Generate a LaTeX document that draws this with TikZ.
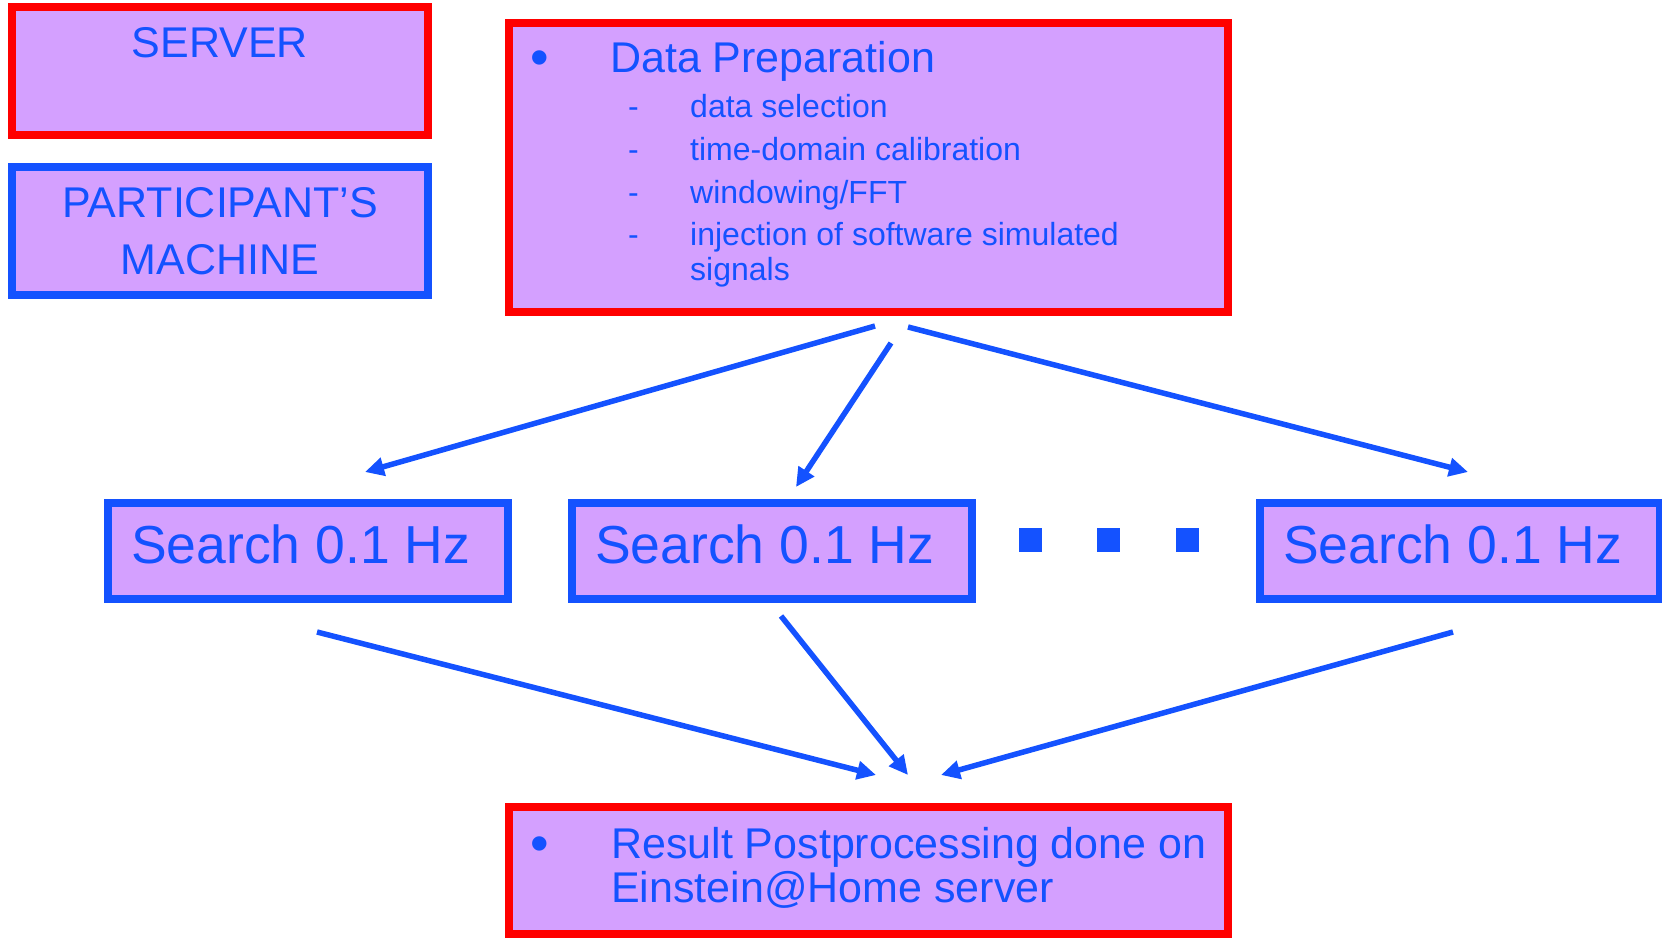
\documentclass[tikz,border=0pt]{standalone}
\usepackage{fontspec}
\setmainfont{Liberation Sans}
\usetikzlibrary{arrows.meta}
\definecolor{boxfill}{RGB}{212,160,255}
\definecolor{blu}{RGB}{20,82,255}
\definecolor{rd}{RGB}{255,0,0}
\tikzset{
  frame/.style={rectangle, fill=boxfill, line width=8pt, inner sep=0pt},
  srvbox/.style={frame, draw=rd},
  clibox/.style={frame, draw=blu},
  txt/.style={text=blu, inner sep=0pt, anchor=base west},
  txtc/.style={text=blu, inner sep=0pt, anchor=base},
  big/.style={font=\fontsize{43}{50}\selectfont},
  bul/.style={font=\fontsize{53}{60}\selectfont},
  small/.style={font=\fontsize{32}{38}\selectfont},
  huge/.style={font=\fontsize{53.5}{60}\selectfont},
  flow/.style={draw=blu, line width=5.5pt, -{Triangle[length=19pt,width=18pt]}},
  dot/.style={rectangle, fill=blu, minimum width=23pt, minimum height=24pt, inner sep=0pt}
}
\begin{document}
\begin{tikzpicture}[x=1pt, y=-1pt]
\useasboundingbox (0,0) rectangle (1662,937);

% legend boxes
\node[srvbox, minimum width=416pt, minimum height=128pt] (server) at (220,71) {};
\node[txtc, big] (servert) at (220,57) {SERVER};
\node[clibox, minimum width=416pt, minimum height=128pt] (client) at (220,231) {};
\node[txtc, big] (clientt1) at (220,217) {PARTICIPANT’S};
\node[txtc, big] (clientt2) at (220,274) {MACHINE};

% data preparation
\node[srvbox, minimum width=719pt, minimum height=289pt] (prep) at (868,167.5) {};
\node[txt, bul] (prepb) at (530,75) {•};
\node[txt, big] (prept) at (610,72) {Data Preparation};
\node[txt, small] (d1) at (628,117) {-};
\node[txt, small] (s1) at (690,117) {data selection};
\node[txt, small] (d2) at (628,160) {-};
\node[txt, small] (s2) at (690,160) {time-domain calibration};
\node[txt, small] (d3) at (628,203) {-};
\node[txt, small] (s3) at (690,203) {windowing/FFT};
\node[txt, small] (d4) at (628,245) {-};
\node[txt, small] (s4) at (690,245) {injection of software simulated};
\node[txt, small] (s4b) at (690,280) {signals};

% search jobs
\node[clibox, minimum width=400pt, minimum height=96pt] (srch1) at (308,551) {};
\node[txt, huge] (srch1t) at (131,563) {Search 0.1 Hz};
\node[clibox, minimum width=400pt, minimum height=96pt] (srch2) at (772,551) {};
\node[txt, huge] (srch2t) at (595,563) {Search 0.1 Hz};
\node[clibox, minimum width=400pt, minimum height=96pt] (srch3) at (1460,551) {};
\node[txt, huge] (srch3t) at (1283,563) {Search 0.1 Hz};
\node[dot] (dot1) at (1030.5,539.5) {};
\node[dot] (dot2) at (1108.5,539.5) {};
\node[dot] (dot3) at (1187.5,539.5) {};

% postprocessing
\node[srvbox, minimum width=719pt, minimum height=127pt] (post) at (868,870.5) {};
\node[txt, bul] (postb) at (530,861) {•};
\node[txt, big] (postt1) at (611,858) {Result Postprocessing done on};
\node[txt, big] (postt2) at (611,902) {Einstein@Home server};

% connector end points
\coordinate (o1) at (875,326);
\coordinate (o2) at (891,343);
\coordinate (o3) at (908,327);
\coordinate (i1) at (365,472);
\coordinate (i2) at (796,487);
\coordinate (i3) at (1468,472);
\coordinate (r1) at (317,632);
\coordinate (r2) at (781,616);
\coordinate (r3) at (1453,632);
\coordinate (p1) at (876,775);
\coordinate (p2) at (908,775);
\coordinate (p3) at (941,775);

\draw[flow] (o1) -- (i1);
\draw[flow] (o2) -- (i2);
\draw[flow] (o3) -- (i3);
\draw[flow] (r1) -- (p1);
\draw[flow] (r2) -- (p2);
\draw[flow] (r3) -- (p3);
\end{tikzpicture}
\end{document}
